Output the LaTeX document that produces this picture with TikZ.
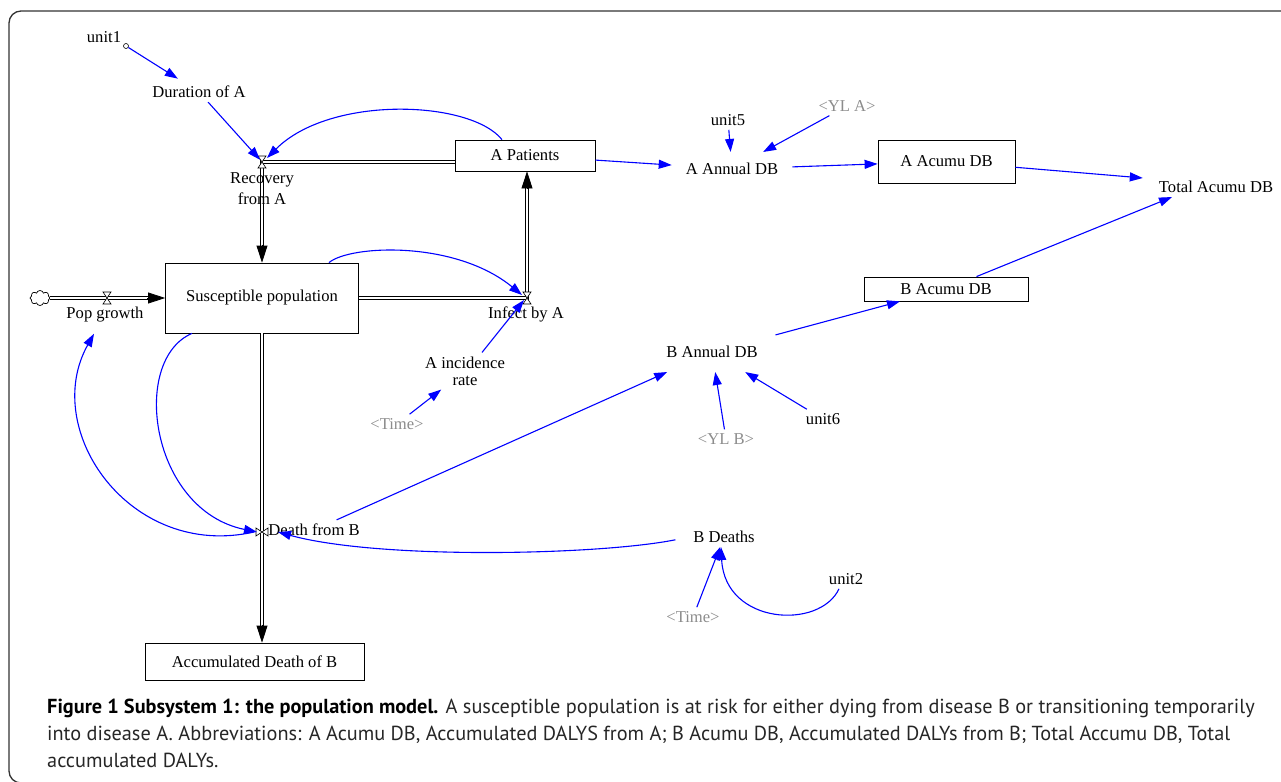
\documentclass[tikz,border=0pt]{standalone}
\usepackage{fontspec}
\setmainfont{Liberation Serif}
\newfontfamily\capfont{PT Sans}
\usepackage{tikz}
\usetikzlibrary{arrows.meta, shapes.symbols}

\begin{document}
\begin{tikzpicture}[x=1pt, y=-1pt,
    stock/.style = {draw,
                    line width=0.8pt,
                    inner sep=0pt,
                    font=\fontsize{16.6}{18}\selectfont},
    aux/.style = {inner sep=4pt, align=center,
                  font=\fontsize{16.6}{18}\selectfont},
    shadow/.style = {aux, text=black!45},
    pipe/.style = {draw=black, line width=0.8pt, double=white, double distance=2.6pt},
    pipehead/.style = {-{Triangle[length=17pt, width=11pt]}, line width=0.8pt},
    link/.style = {draw=blue, line width=1.1pt, -{Triangle[length=13pt, width=9pt]}},
    valve/.pic = {\draw[fill=white, line width=0.6pt] (-4,-6) -- (4,-6) -- (-4,6) -- (4,6) -- cycle;},
    capline/.style = {anchor=base west, inner sep=0pt, text=black!85,
                      font=\capfont\fontsize{20.3}{24}\selectfont}]

  \useasboundingbox (0,0) rectangle (1281,781);
  \draw[black!80, line width=1.3pt, rounded corners=12pt] (9,11) rectangle (1330,783);

  % stocks
  \node (sus) at (262,298) [stock, minimum width=193pt, minimum height=70pt] {Susceptible population};
  \node (pat) at (525,155.5) [stock, minimum width=140pt, minimum height=31pt] {A Patients};
  \node (acc) at (254.5,661.5) [stock, minimum width=219pt, minimum height=37pt] {Accumulated Death of B};
  \node (aac) at (946.5,161.5) [stock, minimum width=137pt, minimum height=43pt] {A Acumu DB};
  \node (bac) at (946,289) [stock, minimum width=164pt, minimum height=24pt] {B Acumu DB};

  % flows
  \node (cld) at (40,298) [cloud, draw, cloud puffs=8, minimum width=20pt, minimum height=15pt,
                           inner sep=0pt, line width=0.7pt] {};
  \coordinate (popv) at (107,298);
  \coordinate (recv) at (262,162);
  \coordinate (infv) at (527,298);
  \coordinate (deav) at (262,532);

  \draw[pipe, shorten >=10pt] (cld.east) -- (sus.west);
  \draw[pipehead] ([xshift=-18pt]sus.west) -- (sus.west);
  \draw[pipe, shorten >=10pt] (recv -| pat.west) -- (recv) -- (sus.north);
  \draw[pipehead] ([yshift=18pt]sus.north) -- (sus.north);
  \draw[pipe, shorten >=10pt] (sus.east) -- (infv) -- (infv |- pat.south);
  \draw[pipehead] ([yshift=-18pt]infv |- pat.south) -- (infv |- pat.south);
  \draw[pipe, shorten >=10pt] (sus.south) -- (sus.south |- acc.north);
  \draw[pipehead] ([yshift=18pt]sus.south |- acc.north) -- (sus.south |- acc.north);

  \pic at (popv) {valve};
  \pic at (recv) {valve};
  \pic at (infv) {valve};
  \pic[rotate=90] at (deav) {valve};

  % variables
  \node (unit1) at (104,37) [aux] {unit1};
  \node (u1c) at (126,46) [circle, draw, minimum size=5pt, inner sep=0pt, line width=0.6pt] {};
  \node (dur) at (199,92) [aux] {Duration of A};
  \node (recl) at (262,189) [aux, font=\fontsize{16.6}{21}\selectfont] {Recovery\\from A};
  \node (popl) at (105,315) [aux] {Pop growth};
  \node (infl) at (526,314) [aux] {Infect by A};
  \node (inc) at (465,371) [aux, font=\fontsize{16.6}{17}\selectfont] {A incidence\\rate};
  \node (time1) at (397,424) [shadow] {<Time>};
  \node (deal) at (314,530) [aux] {Death from B};
  \node (aad) at (732,169) [aux, inner ysep=11pt] {A Annual DB};
  \node (unit5) at (728,120) [aux] {unit5};
  \node (yla) at (847,106) [shadow] {<YL A>};
  \node (tot) at (1216,187) [aux] {Total Acumu DB};
  \node (bad) at (712,352) [aux, inner xsep=6pt, inner ysep=14pt] {B Annual DB};
  \node (ylb) at (726,439) [shadow] {<YL B>};
  \node (unit6) at (823,419) [aux] {unit6};
  \node (bde) at (724,537) [aux] {B Deaths};
  \node (time2) at (693,617) [shadow] {<Time>};
  \node (unit2) at (846,579) [aux] {unit2};

  % links
  \draw[link, shorten >=6pt] (u1c) -- (dur);
  \draw[link, shorten >=3pt] (dur) -- (recv);
  \draw[link] ([xshift=-23pt]pat.north) .. controls (470,100) and (330,95) .. ([xshift=5pt,yshift=4pt]recv);
  \draw[link] ([xshift=67pt]sus.north) .. controls (350,245) and (455,240) .. ([xshift=-5pt,yshift=3pt]infv);
  \draw[link] ([xshift=17pt]inc.north) -- ([xshift=-3pt,yshift=-2pt]infv);
  \draw[link] (time1) -- (inc);
  \draw[link] ([xshift=-70pt]sus.south) .. controls (130,360) and (150,510) .. ([xshift=-5pt]deav);
  \draw[link] ([xshift=-8pt]deav) .. controls (130,560) and (40,430) .. ([xshift=-11pt,yshift=-7pt]popl.south);
  \draw[link, shorten <=14pt] (bde.west) .. controls (600,555) and (380,560) .. ([xshift=16pt]deav);
  \draw[link] (deal) -- (bad);
  \draw[link, shorten <=12pt] (bad) -- (bac);
  \draw[link] (ylb) -- (bad);
  \draw[link] (unit6) -- (bad);
  \draw[link, shorten >=10pt] (pat) -- (aad);
  \draw[link] (unit5) -- (aad);
  \draw[link] (yla) -- (aad);
  \draw[link, shorten <=10pt] (aad) -- (aac);
  \draw[link, shorten >=12pt] (aac) -- ([yshift=8pt]tot.west);
  \draw[link] (bac) -- ([xshift=-44pt]tot.south);
  \draw[link] (time2) -- (bde);
  \draw[link] ([xshift=-7pt]unit2.south) .. controls (820,630) and (725,625) .. ([xshift=-3pt]bde.south);

  % caption
  \node (cap1) at (47,713) [capline] {\textcolor{black}{\textbf{Figure 1 Subsystem 1: the population model.}} A susceptible population is at risk for either dying from disease B or transitioning temporarily};
  \node (cap2) at (47,740) [capline] {into disease A. Abbreviations: A Acumu DB, Accumulated DALYS from A; B Acumu DB, Accumulated DALYs from B; Total Accumu DB, Total};
  \node (cap3) at (47,767) [capline] {accumulated DALYs.};
\end{tikzpicture}
\end{document}
